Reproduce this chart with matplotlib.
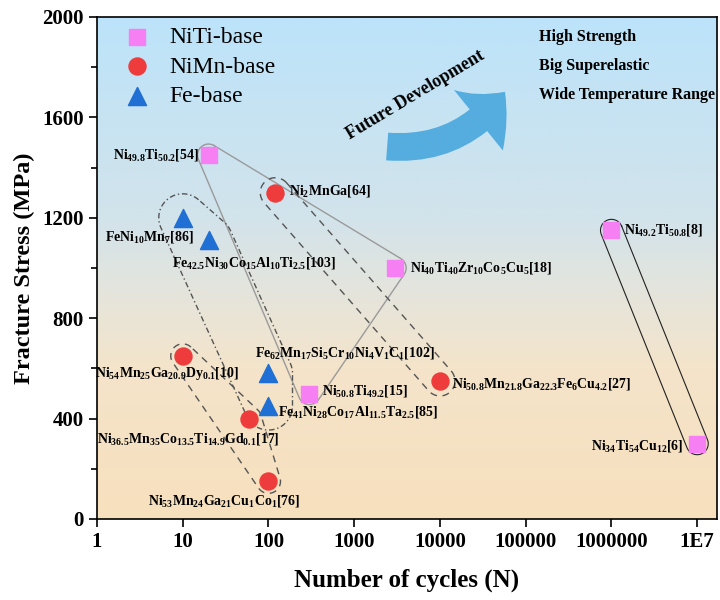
import numpy as np
import matplotlib
matplotlib.use('Agg')
import matplotlib.pyplot as plt
from matplotlib.colors import LinearSegmentedColormap
from matplotlib.patches import FancyArrowPatch
from matplotlib.ticker import MultipleLocator, NullLocator

plt.rcParams['font.family'] = 'Liberation Serif'
plt.rcParams['font.weight'] = 'bold'
plt.rcParams['mathtext.default'] = 'regular'

# NiTi-base
niti_n = [20, 3000, 300, 1e6, 1e7]
niti_s = [1450, 1000, 500, 1150, 300]
niti_lab = ['Ni$_{49.8}$Ti$_{50.2}$[54]',
            'Ni$_{40}$Ti$_{40}$Zr$_{10}$Co$_5$Cu$_5$[18]',
            'Ni$_{50.8}$Ti$_{49.2}$[15]',
            'Ni$_{49.2}$Ti$_{50.8}$[8]',
            'Ni$_{34}$Ti$_{54}$Cu$_{12}$[6]']

# NiMn-base
nimn_n = [120, 10000, 10, 60, 100]
nimn_s = [1300, 550, 650, 400, 150]
nimn_lab = ['Ni$_2$MnGa[64]',
            'Ni$_{50.8}$Mn$_{21.8}$Ga$_{22.3}$Fe$_6$Cu$_{4.2}$[27]',
            'Ni$_{54}$Mn$_{25}$Ga$_{20.9}$Dy$_{0.1}$[10]',
            'Ni$_{36.5}$Mn$_{35}$Co$_{13.5}$Ti$_{14.9}$Gd$_{0.1}$[17]',
            'Ni$_{53}$Mn$_{24}$Ga$_{21}$Cu$_1$Co$_1$[76]']

# Fe-base
fe_n = [10, 20, 100, 100]
fe_s = [1200, 1110, 580, 450]
fe_lab = ['FeNi$_{10}$Mn$_7$[86]',
          'Fe$_{42.5}$Ni$_{30}$Co$_{15}$Al$_{10}$Ti$_{2.5}$[103]',
          'Fe$_{62}$Mn$_{17}$Si$_5$Cr$_{10}$Ni$_4$V$_1$C$_1$[102]',
          'Fe$_{41}$Ni$_{28}$Co$_{17}$Al$_{11.5}$Ta$_{2.5}$[85]']

xticks = [1, 10, 100, 1000, 10000, 100000, 1000000, 1e7]
xticklabels = ['1', '10', '100', '1000', '10000', '100000', '1000000', '1E7']
goals = ['High Strength', 'Big Superelastic', 'Wide Temperature Range']

# label placement (offset in points, horizontal alignment)
niti_off = [((-6.5, 0), 'right'), ((11, 0), 'left'), ((9, 2), 'left'),
            ((9, 0), 'left'), ((-10, -2), 'right')]
nimn_off = [((10, 1.5), 'left'), ((9, -2), 'left'), ((-11.5, -13), 'center'),
            ((22, -15), 'right'), ((-32, -14), 'center')]
fe_off = [((8, -14), 'right'), ((-26, -16), 'left'), ((-10, 15), 'left'),
          ((7, -4), 'left')]


def rounded_hull(ax, xs, ys, pad):
    # convex hull of the points in pixel space, grown by pad pixels
    pts = ax.transData.transform(np.column_stack([xs, ys]))
    pts = sorted(map(tuple, pts))

    def cross(o, a, b):
        return (a[0] - o[0]) * (b[1] - o[1]) - (a[1] - o[1]) * (b[0] - o[0])

    lower, upper = [], []
    for p in pts:
        while len(lower) >= 2 and cross(lower[-2], lower[-1], p) <= 0:
            lower.pop()
        lower.append(p)
    for p in reversed(pts):
        while len(upper) >= 2 and cross(upper[-2], upper[-1], p) <= 0:
            upper.pop()
        upper.append(p)
    hull = np.array(lower[:-1] + upper[:-1])
    out = []
    n = len(hull)
    for i in range(n):
        p, prev, nxt = hull[i], hull[i - 1], hull[(i + 1) % n]
        e1, e2 = p - prev, nxt - p
        a1 = np.arctan2(-e1[0], e1[1])
        a2 = np.arctan2(-e2[0], e2[1])
        if a2 < a1:
            a2 += 2 * np.pi
        th = np.linspace(a1, a2, 25)
        out.extend(np.column_stack([p[0] + pad * np.cos(th), p[1] + pad * np.sin(th)]))
    out.append(out[0])
    out = ax.transData.inverted().transform(np.array(out))
    return out[:, 0], out[:, 1]


fig = plt.figure(figsize=(7.2, 6), dpi=100)
rect = [97 / 720, 81 / 600, 620 / 720, 502 / 600]

# gradient background
bg = fig.add_axes(rect, zorder=0)
bg.axis('off')
cmap = LinearSegmentedColormap.from_list(
    'bg', [(0, '#f7e0bd'), (0.3, '#f4e4ca'), (0.45, '#e5e5dc'), (0.6, '#d2e3eb'), (1, '#bce3fa')])
bg.imshow(np.linspace(0, 1, 256).reshape(-1, 1), origin='lower', aspect='auto',
          cmap=cmap, extent=[0, 1, 0, 1])

ax = fig.add_axes(rect, zorder=1)
ax.set_facecolor('none')
ax.set_xscale('log')
ax.set_xlim(1, 1.7e7)
ax.set_ylim(0, 2000)

# envelopes around groups
hx, hy = rounded_hull(ax, niti_n[:3], niti_s[:3], 11)
ax.plot(hx, hy, color='#9a9a9a', lw=1)
hx, hy = rounded_hull(ax, niti_n[3:], niti_s[3:], 11)
ax.plot(hx, hy, color='#222222', lw=0.8)
hx, hy = rounded_hull(ax, nimn_n[:2], nimn_s[:2], 15)
ax.plot(hx, hy, color='#555555', lw=1, ls=(0, (5, 4)))
hx, hy = rounded_hull(ax, nimn_n[2:], nimn_s[2:], 12)
ax.plot(hx, hy, color='#555555', lw=1, ls=(0, (5, 4)))
hx, hy = rounded_hull(ax, fe_n, fe_s, 24)
ax.plot(hx, hy, color='#555555', lw=1, ls=(0, (4, 2, 1, 2)))

ax.scatter(niti_n, niti_s, marker='s', s=125, color='#f57ff3', label='NiTi-base', zorder=3)
ax.scatter(nimn_n, nimn_s, marker='o', s=150, color='#ee3b3b', label='NiMn-base', zorder=3)
ax.scatter(fe_n, fe_s, marker='^', s=170, color='#1f6fd4', label='Fe-base', zorder=3)

for ns, ss, labs, offs in [(niti_n, niti_s, niti_lab, niti_off),
                           (nimn_n, nimn_s, nimn_lab, nimn_off),
                           (fe_n, fe_s, fe_lab, fe_off)]:
    for n, s, lab, (off, ha) in zip(ns, ss, labs, offs):
        ax.annotate(lab, (n, s), xytext=off, textcoords='offset points',
                    ha=ha, va='center', fontsize=10, zorder=4)

# future development arrow
arrow = FancyArrowPatch((0.468, 0.742), (0.658, 0.851), transform=ax.transAxes,
                        arrowstyle='simple,head_length=1.4,head_width=2.8,tail_width=1.0',
                        connectionstyle='arc3,rad=0.28', mutation_scale=20,
                        color='#55acdf', lw=0, shrinkA=0, shrinkB=0, zorder=2)
ax.add_patch(arrow)
ax.text(0.513, 0.845, 'Future Development', transform=ax.transAxes, rotation=31,
        ha='center', va='center', fontsize=13)

for i, g in enumerate(goals):
    ax.text(0.713, 0.96 - i * 0.058, g, transform=ax.transAxes, ha='left', va='center',
            fontsize=11.5)

ax.set_xticks(xticks)
ax.set_xticklabels(xticklabels)
ax.xaxis.set_minor_locator(NullLocator())
ax.yaxis.set_major_locator(MultipleLocator(400))
ax.yaxis.set_minor_locator(MultipleLocator(200))
ax.tick_params(which='major', direction='out', length=6, width=1.2, labelsize=15)
ax.tick_params(which='minor', direction='out', length=4, width=1.2)
for sp in ax.spines.values():
    sp.set_linewidth(1.2)

ax.set_xlabel('Number of cycles (N)', fontsize=18, fontweight='bold', labelpad=12)
ax.set_ylabel('Fracture Stress (MPa)', fontsize=17.5, fontweight='bold', labelpad=5)

ax.legend(loc='upper left', bbox_to_anchor=(0.012, 1.0), frameon=False,
          prop={'weight': 'normal', 'size': 17},
          handletextpad=0.35, labelspacing=0.34, borderaxespad=0.3, borderpad=0.1)

fig.savefig('out.png', dpi=100)
